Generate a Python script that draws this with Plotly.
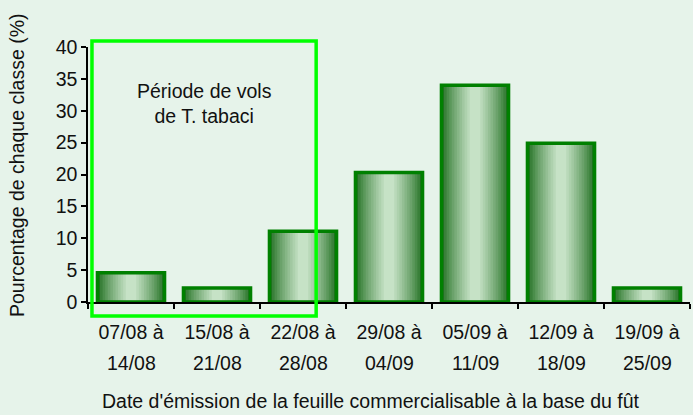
import plotly.graph_objects as go

categories = ["07/08 à 14/08", "15/08 à 21/08", "22/08 à 28/08", "29/08 à 04/09",
              "05/09 à 11/09", "12/09 à 18/09", "19/09 à 25/09"]
tick_line1 = ["07/08 à", "15/08 à", "22/08 à", "29/08 à", "05/09 à", "12/09 à", "19/09 à"]
tick_line2 = ["14/08", "21/08", "28/08", "04/09", "11/09", "18/09", "25/09"]
values = [4.6, 2.2, 11.1, 20.3, 34.0, 24.9, 2.2]

FONT = "Liberation Sans, Arial, sans-serif"
FS = 19.5
BG = "#e6f3ea"
TXT = "#111111"

fig = go.Figure()

# simulated cylinder shading: overlay bars of decreasing width, lighter toward center
n_layers = 12
w0 = 0.78
dark = (34, 112, 34)
light = (198, 226, 198)
for i in range(n_layers):
    t = i / (n_layers - 1)
    t = t ** 0.8
    col = tuple(int(dark[k] + (light[k] - dark[k]) * t) for k in range(3))
    w = w0 * (1 - i / n_layers * 0.92)
    fig.add_trace(go.Bar(
        x=categories, y=values, width=w,
        marker=dict(color="rgb(%d,%d,%d)" % col, line=dict(width=0)),
        showlegend=False, hoverinfo="skip"))

fig.add_trace(go.Bar(
    x=categories, y=values, width=w0,
    marker=dict(color="rgba(0,0,0,0)", line=dict(color="#008000", width=3.5)),
    showlegend=False))

# second line of the tick labels
for c, t2 in zip(categories, tick_line2):
    fig.add_annotation(x=c, xref="x", y=-0.239, yref="paper", text=t2,
                       showarrow=False, font=dict(family=FONT, size=FS, color=TXT),
                       yanchor="middle", xanchor="center")

fig.add_shape(type="rect", xref="paper", yref="paper",
              x0=0.0066, x1=0.379, y0=-0.055, y1=1.0235,
              line=dict(color="#00ff00", width=3.5), fillcolor="rgba(0,0,0,0)")

fig.add_annotation(x=0.194, xref="paper", y=0.78, yref="paper", xanchor="center",
                   yanchor="middle",
                   text="Période de vols<br>de T. tabaci", showarrow=False,
                   font=dict(family=FONT, size=FS, color=TXT))

# axis titles
fig.add_annotation(x=-0.118, xref="paper", y=0.537, yref="paper", textangle=-90,
                   xanchor="center", yanchor="middle", showarrow=False,
                   text="Pourcentage de chaque classe (%)",
                   font=dict(family=FONT, size=FS, color=TXT))
fig.add_annotation(x=0.47, xref="paper", y=-0.39, yref="paper",
                   xanchor="center", yanchor="middle", showarrow=False,
                   text="Date d'émission de la feuille commercialisable à la base du fût",
                   font=dict(family=FONT, size=FS, color=TXT))

fig.update_layout(
    width=693, height=415,
    barmode="overlay",
    paper_bgcolor=BG, plot_bgcolor=BG,
    margin=dict(l=88, r=3, t=47, b=113),
    font=dict(family=FONT, size=FS, color=TXT),
    xaxis=dict(type="category", range=[-0.5, 6.5], tickmode="array",
               tickvals=categories, ticktext=tick_line1, automargin=False,
               tickson="boundaries", ticks="outside", ticklen=5, tickwidth=1.5,
               tickcolor="black", showline=True, linecolor="black", linewidth=1.5,
               showgrid=False, ticklabelstandoff=12),
    yaxis=dict(range=[0, 40], dtick=5, ticks="outside", ticklen=5, tickwidth=1.5,
               tickcolor="black", showline=True, linecolor="black", linewidth=1.5,
               showgrid=False, zeroline=False, automargin=False),
)

fig.write_html(
    "out.html",
    config={"displayModeBar": False},
    post_script="document.body.style.margin='0';document.body.style.background='%s';" % BG,
)
